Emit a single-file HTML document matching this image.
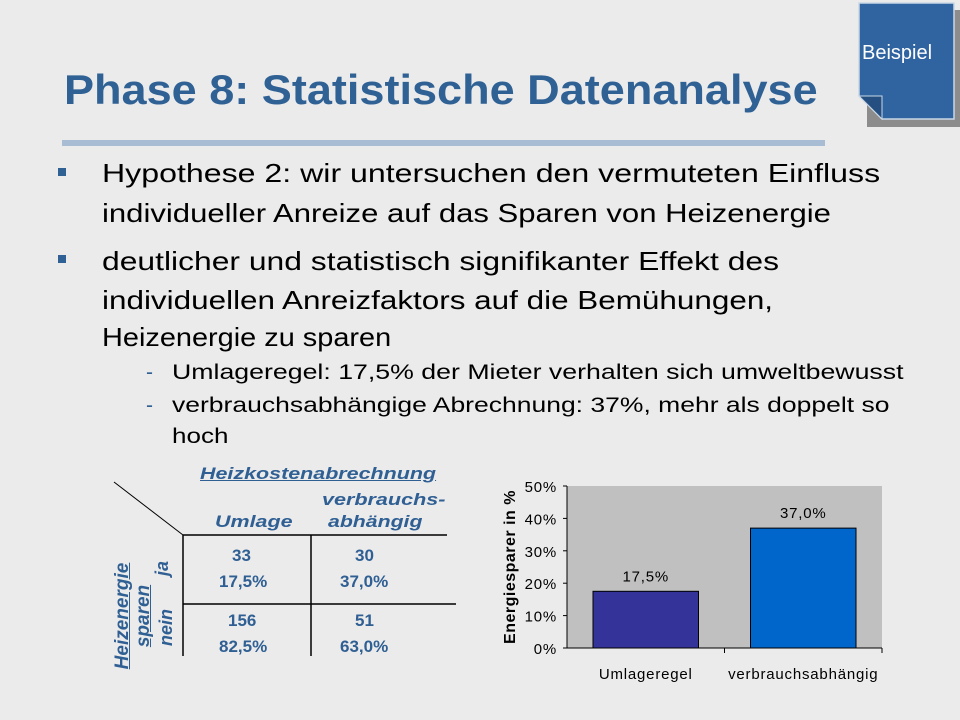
<!DOCTYPE html>
<html><head><meta charset="utf-8"><style>
body{margin:0;width:960px;height:720px;background:#ebebeb;font-family:"Liberation Sans",sans-serif;overflow:hidden;position:relative}
.a{position:absolute;white-space:nowrap}
.fit{transform-origin:0 0}
.t{color:#2f5f93;font-weight:bold;font-style:italic;font-size:17px}
.sq{position:absolute;width:8px;height:8px;background:#2f6195}
</style></head><body>
<div class="a" style="left:867px;top:10px;width:94px;height:117px;background:#8c8c8c"></div>
<svg class="a" style="left:858px;top:2px" width="98" height="118"><polygon points="1,1 96,1 96,117 24,117 1,94" fill="#2f64a0" stroke="#c9d7e6" stroke-width="1.5"/><polygon points="1,94 24,94 24,117" fill="#244f80" stroke="#c9d7e6" stroke-width="1"/></svg>
<div class="a" style="left:862px;top:42px;color:#fff;font-size:20px">Beispiel</div>
<div class="a fit" data-w="754" style="left:64px;top:66px;color:#2f6195;font-weight:bold;font-size:42px">Phase 8: Statistische Datenanalyse</div>
<div class="a" style="left:62px;top:140px;width:763px;height:6px;background:#a8bcd4"></div>
<div class="a" style="left:0;top:0;font-size:26px;color:#000;line-height:30px">
<div class="sq" style="left:58px;top:168px"></div>
<div class="a fit" data-w="778" style="left:102px;top:158px">Hypothese 2: wir untersuchen den vermuteten Einfluss</div>
<div class="a fit" data-w="729" style="left:102px;top:198px">individueller Anreize auf das Sparen von Heizenergie</div>
<div class="sq" style="left:58px;top:255px"></div>
<div class="a fit" data-w="677" style="left:102px;top:246px">deutlicher und statistisch signifikanter Effekt des</div>
<div class="a fit" data-w="671" style="left:102px;top:285px">individuellen Anreizfaktors auf die Bemühungen,</div>
<div class="a fit" data-w="289" style="left:102px;top:322px">Heizenergie zu sparen</div>
<div class="a" style="left:146px;top:360px;font-size:21px;line-height:26px;color:#2f6195">-</div>
<div class="a fit" data-w="731" style="left:172px;top:360px;font-size:21px;line-height:26px">Umlageregel: 17,5% der Mieter verhalten sich umweltbewusst</div>
<div class="a" style="left:146px;top:393px;font-size:21px;line-height:26px;color:#2f6195">-</div>
<div class="a fit" data-w="718" style="left:172px;top:393px;font-size:21px;line-height:26px">verbrauchsabhängige Abrechnung: 37%, mehr als doppelt so</div>
<div class="a fit" data-w="57" style="left:172px;top:424px;font-size:21px;line-height:26px">hoch</div>
</div>
<svg class="a" style="left:0;top:0" width="480" height="720"><line x1="114" y1="482" x2="183" y2="535" stroke="#000"/><line x1="183" y1="535" x2="183" y2="656" stroke="#000" stroke-width="1.5"/><line x1="183" y1="535" x2="447" y2="535" stroke="#000" stroke-width="1.5"/><line x1="311" y1="535" x2="311" y2="656" stroke="#000" stroke-width="1.5"/><line x1="183" y1="604" x2="456" y2="604" stroke="#000" stroke-width="1.5"/></svg>
<div class="a t fit" data-w="236" style="left:200px;top:464px;text-decoration:underline">Heizkostenabrechnung</div>
<div class="a t fit" data-w="123" style="left:322px;top:490px">verbrauchs-</div>
<div class="a t fit" data-w="77" style="left:215px;top:512px">Umlage</div>
<div class="a t fit" data-w="95" style="left:328px;top:512px">abhängig</div>
<div class="a t" style="left:70px;top:595px;transform:rotate(-90deg);transform-origin:center;width:126px;text-align:center;line-height:21px;text-decoration:underline;font-size:19px">Heizenergie<br>sparen</div>
<div class="a t" style="left:155px;top:558px;transform:rotate(-90deg);font-size:18px">ja</div>
<div class="a t" style="left:148px;top:617px;transform:rotate(-90deg);font-size:18px">nein</div>
<div class="a" style="left:0;top:0;color:#2f5f93;font-weight:bold;font-size:17px;line-height:28px">
<div class="a" style="left:232px;top:542px">33</div><div class="a" style="left:219px;top:568px">17,5%</div>
<div class="a" style="left:355px;top:542px">30</div><div class="a" style="left:340px;top:568px">37,0%</div>
<div class="a" style="left:228px;top:607px">156</div><div class="a" style="left:219px;top:633px">82,5%</div>
<div class="a" style="left:355px;top:607px">51</div><div class="a" style="left:340px;top:633px">63,0%</div>
</div>
<svg id="chart" class="a" style="left:0;top:0" width="960" height="720"></svg>
<script>
const categories=["Umlageregel","verbrauchsabhängig"];
const values=[17.5,37.0];
const valueLabels=["17,5%","37,0%"];
const ticks=[0,10,20,30,40,50];
const colors=["#333399","#0066cc"];
const svg=document.getElementById('chart');const NS="http://www.w3.org/2000/svg";
const x0=567,x1=882,y0=648,y1=486;
const y=v=>y0-(v/50)*(y0-y1);
const bw=(x1-x0)/categories.length;
function mk(t,a,txt){const e=document.createElementNS(NS,t);for(const k in a)e.setAttribute(k,a[k]);if(txt!=null)e.textContent=txt;svg.appendChild(e);return e;}
let e=mk('rect',{x:x0,y:y1,width:x1-x0,height:y0-y1,fill:'#c0c0c0'});

ticks.forEach(t=>{let l=mk('line',{x1:x0-4,x2:x0,y1:y(t),y2:y(t),stroke:'#000'});

let tx=mk('text',{x:x0-10,y:y(t)+6,'text-anchor':'end','font-size':15,'letter-spacing':0.8,'font-family':'Liberation Sans'},t+'%');
});
categories.forEach((c,i)=>{const bx=x0+i*bw+26;
let r=mk('rect',{x:bx,y:y(values[i]),width:bw-52,height:y0-y(values[i]),fill:colors[i],stroke:'#000','stroke-width':1});

let v=mk('text',{x:x0+(i+.5)*bw,y:y(values[i])-10,'text-anchor':'middle','font-size':15,'letter-spacing':0.8,'font-family':'Liberation Sans'},valueLabels[i]);

let cl=mk('text',{x:x0+(i+.5)*bw,y:679,'text-anchor':'middle','font-size':15,'letter-spacing':0.8,'font-family':'Liberation Sans'},c);

let tk=mk('line',{x1:x0+(i+1)*bw,x2:x0+(i+1)*bw,y1:y0,y2:y0+5,stroke:'#000'});
});
let ax=mk('line',{x1:x0,x2:x0,y1:y1,y2:y0,stroke:'#000'});
let bx=mk('line',{x1:x0,x2:x1,y1:y0,y2:y0,stroke:'#000'});
let yt=mk('text',{x:0,y:0,transform:'translate(515,567) rotate(-90)','text-anchor':'middle','font-size':16,'letter-spacing':0.5,'font-weight':'bold','font-family':'Liberation Sans'},'Energiesparer in %');

document.querySelectorAll('.fit').forEach(el=>{const w=+el.dataset.w;const s=w/el.scrollWidth;el.style.transform=(el.style.transform||'')+' scaleX('+s+')';});
</script>
</body></html>
